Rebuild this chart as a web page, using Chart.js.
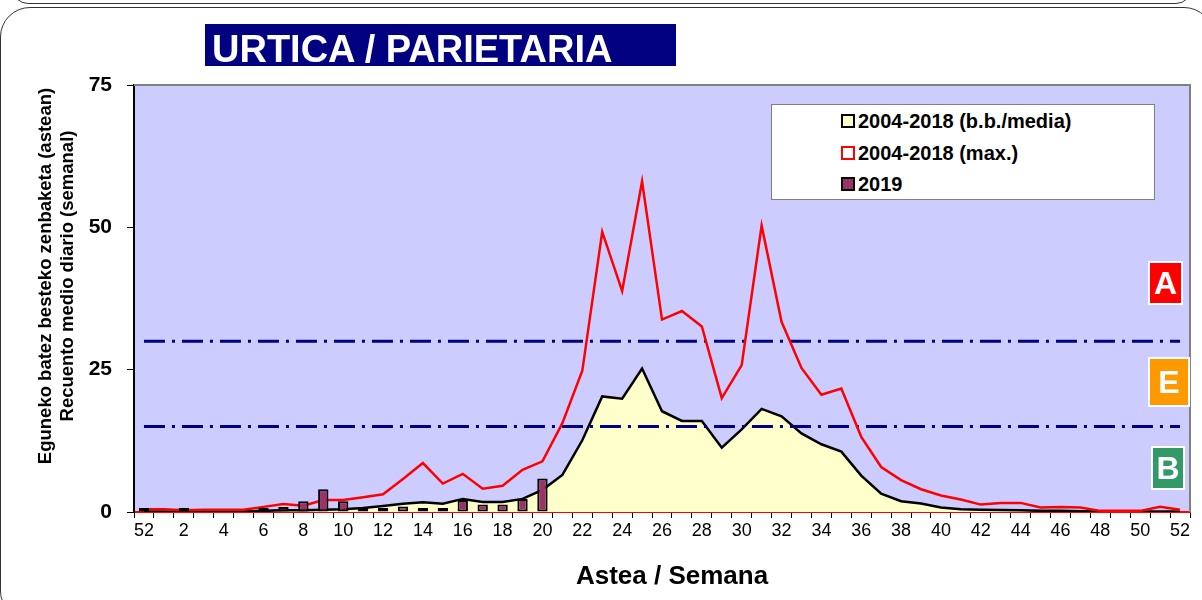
<!DOCTYPE html>
<html>
<head>
<meta charset="utf-8">
<title>Urtica / Parietaria</title>
<script src="https://cdn.jsdelivr.net/npm/chart.js@4.4.0/dist/chart.umd.min.js"></script>
<style>
  body { margin: 0; background: #fff; font-family: Arial, "Liberation Sans", sans-serif; }
  #wrap { position: relative; width: 1202px; height: 600px; overflow: hidden; }
  #chart { position: absolute; left: 0; top: 0; }
  .frame-top { position: absolute; left: 12px; top: -40px; width: 1178px; height: 42px; border: 1px solid #333; border-radius: 0 0 16px 16px; }
  .frame { position: absolute; left: 0; top: 7px; width: 1212px; height: 612px; border: 1px solid #333; border-radius: 30px; }
  .title-box { position: absolute; left: 205px; top: 24px; width: 471px; height: 42px; background: #000080; }
  .title-text { position: absolute; left: 212px; top: 30px; font-size: 38px; line-height: 38px; font-weight: bold; color: #fff; white-space: nowrap; }
  .y-title { position: absolute; left: -144px; top: 254px; width: 400px; height: 44px; transform: rotate(-90deg);
             text-align: center; font-weight: bold; font-size: 18.5px; line-height: 22px; color: #000; white-space: nowrap; }
  .x-title { position: absolute; left: 572px; top: 560px; width: 200px; text-align: center; font-weight: bold; font-size: 26px; line-height: 30px; color: #000; }
  .legend { position: absolute; left: 771px; top: 104px; width: 382px; height: 94px; background: #fff; border: 1px solid #808080; }
  .legend .row { position: absolute; left: 69px; height: 24px; font-weight: bold; font-size: 20px; line-height: 24px; white-space: nowrap; }
  .legend .mk { display: inline-block; width: 10px; height: 10px; border: 2px solid #000; margin-right: 3px; vertical-align: 0px; }
  .zone { position: absolute; color: #fff; font-weight: bold; font-size: 32px; text-align: center; border: 2px solid #fff; box-sizing: border-box; }
</style>
</head>
<body>
<div id="wrap">
  <div class="frame-top"></div>
  <div class="frame"></div>
  <canvas id="chart" width="1202" height="600"></canvas>
  <div class="title-box"></div>
  <div class="title-text">URTICA / PARIETARIA</div>
  <div class="y-title">Eguneko batez besteko zenbaketa (astean)<br>Recuento medio diario (semanal)</div>
  <div class="x-title">Astea / Semana</div>
  <div class="legend" id="legend"></div>
  <div class="zone" style="left:1148px; top:261px; width:35px; height:44px; line-height:40px; background:#FF0000;">A</div>
  <div class="zone" style="left:1148px; top:357px; width:42px; height:50px; line-height:46px; background:#FF9900;">E</div>
  <div class="zone" style="left:1151px; top:446px; width:34px; height:44px; line-height:40px; background:#339966;">B</div>
</div>
<script>
// asteak / semanas (52 del año anterior + 1..52)
const weekLabels = ['52','1','2','3','4','5','6','7','8','9','10','11','12','13','14','15','16','17','18','19','20',
  '21','22','23','24','25','26','27','28','29','30','31','32','33','34','35','36','37','38','39','40',
  '41','42','43','44','45','46','47','48','49','50','51','52'];

// 2004-2018 batez bestekoa / media
const meanValues = [0.1, 0.1, 0.1, 0.1, 0.1, 0.1, 0.2, 0.3, 0.3, 0.4, 0.5, 0.7, 1.05, 1.45, 1.7, 1.45, 2.3, 1.75, 1.75, 2.3, 3.9,
  6.5, 12.6, 20.3, 19.9, 25.2, 17.7, 16.0, 16.0, 11.3, 14.5, 18.1, 16.8, 13.8, 11.9, 10.6, 6.4, 3.2, 1.9, 1.5, 0.8,
  0.5, 0.4, 0.35, 0.3, 0.2, 0.2, 0.15, 0.1, 0.1, 0.1, 0.1, 0.1];

// 2004-2018 maximoa / max
const maxValues = [0.5, 0.5, 0.3, 0.4, 0.4, 0.4, 0.9, 1.4, 1.1, 2.1, 2.1, 2.6, 3.1, 5.8, 8.6, 5.0, 6.7, 4.1, 4.6, 7.4, 8.9,
  15.6, 24.8, 49.2, 38.8, 58.1, 33.8, 35.3, 32.6, 20.0, 25.8, 50.3, 33.4, 25.3, 20.6, 21.7, 13.2, 7.9, 5.6, 4.0, 2.9,
  2.2, 1.3, 1.6, 1.6, 0.8, 0.9, 0.8, 0.2, 0.2, 0.2, 0.9, 0.4];

// 2019
const values2019 = [0.15, null, 0.3, null, null, null, 0.35, 0.9, 1.9, 4.0, 1.9, 0.4, 0.3, 0.95, 0.3, 0.4, 2.1, 1.3, 1.3, 2.3, 5.9,
  null, null, null, null, null, null, null, null, null, null, null, null, null, null, null, null, null, null, null, null,
  null, null, null, null, null, null, null, null, null, null, null, null];

const yTicks = [0, 25, 50, 75];
const seriesNames = ['2004-2018 (b.b./media)', '2004-2018 (max.)', '2019'];

// atalaseak (A / E / B mailak)
const levelHigh = 30;
const levelLow = 15;

// legenda HTML-n
const legendMarks = [
  { bg: '#FFFFCC', border: '#000' },
  { bg: '#FFFFFF', border: '#FF0000' },
  { bg: '#993366', border: '#000' }
];
const legendTops = [4, 36, 67];
const legend = document.getElementById('legend');
seriesNames.forEach((name, i) => {
  const row = document.createElement('div');
  row.className = 'row';
  row.style.top = legendTops[i] + 'px';
  row.innerHTML = `<span class="mk" style="background:${legendMarks[i].bg};border-color:${legendMarks[i].border}"></span>${name}`;
  legend.appendChild(row);
});

// marrazki eremuaren atzealdea eta ertzak
const plotBg = {
  id: 'plotBg',
  beforeDraw(chart) {
    const { ctx, chartArea: a } = chart;
    ctx.save();
    ctx.fillStyle = '#CCCCFF';
    ctx.fillRect(a.left, a.top, a.right - a.left, a.bottom - a.top);
    ctx.restore();
  },
  afterDraw(chart) {
    const { ctx, chartArea: a } = chart;
    ctx.save();
    ctx.strokeStyle = '#808080';
    ctx.lineWidth = 2;
    ctx.beginPath();
    ctx.moveTo(a.left, a.top);
    ctx.lineTo(a.right, a.top);
    ctx.lineTo(a.right, a.bottom);
    ctx.stroke();
    ctx.restore();
  }
};

const ctx = document.getElementById('chart').getContext('2d');
new Chart(ctx, {
  data: {
    labels: weekLabels,
    datasets: [
      {
        type: 'line',
        label: seriesNames[0],
        data: meanValues,
        borderColor: '#000000',
        borderWidth: 2.5,
        backgroundColor: '#FFFFCC',
        fill: 'origin',
        pointRadius: 0,
        tension: 0,
        order: 5
      },
      {
        type: 'line',
        label: 'A',
        data: weekLabels.map(() => levelHigh),
        borderColor: '#000080',
        borderWidth: 3,
        borderDash: [21, 7, 3, 7],
        pointRadius: 0,
        fill: false,
        order: 4
      },
      {
        type: 'line',
        label: 'E',
        data: weekLabels.map(() => levelLow),
        borderColor: '#000080',
        borderWidth: 3,
        borderDash: [21, 7, 3, 7],
        pointRadius: 0,
        fill: false,
        order: 4
      },
      {
        type: 'line',
        label: seriesNames[1],
        data: maxValues,
        borderColor: '#FF0000',
        borderWidth: 2.5,
        pointRadius: 0,
        fill: false,
        tension: 0,
        order: 3
      },
      {
        type: 'bar',
        label: seriesNames[2],
        data: values2019,
        backgroundColor: '#993366',
        borderColor: '#000000',
        borderWidth: 2,
        borderSkipped: false,
        minBarLength: 4,
        barPercentage: 0.52,
        categoryPercentage: 1,
        order: 1
      }
    ]
  },
  options: {
    responsive: false,
    animation: false,
    devicePixelRatio: 1,
    layout: { padding: { top: 85, right: 12, left: 0, bottom: 0 } },
    plugins: {
      legend: { display: false },
      title: { display: false },
      tooltip: { enabled: false }
    },
    scales: {
      x: {
        offset: true,
        afterFit: s => { s.height = 88; },
        grid: { display: true, offset: true, drawOnChartArea: false, drawTicks: true, tickLength: 6, tickColor: '#000', tickWidth: 1 },
        border: { display: true, color: '#FF0000', width: 2 },
        ticks: {
          autoSkip: false,
          maxRotation: 0,
          padding: 2,
          color: '#000',
          font: { family: 'Arial, "Liberation Sans", sans-serif', size: 18 },
          callback: function(val, i) { return i % 2 === 0 ? weekLabels[i] : ''; }
        }
      },
      y: {
        min: 0,
        max: 75,
        afterFit: s => { s.width = 134; },
        afterBuildTicks: s => { s.ticks = yTicks.map(v => ({ value: v })); },
        grid: { display: true, drawOnChartArea: false, drawTicks: true, tickLength: 7, tickColor: '#000', tickWidth: 1 },
        border: { display: true, color: '#000', width: 2 },
        ticks: {
          padding: 15,
          color: '#000',
          font: { family: 'Arial, "Liberation Sans", sans-serif', size: 21, weight: 'bold' }
        }
      }
    }
  },
  plugins: [plotBg]
});
</script>
</body>
</html>
